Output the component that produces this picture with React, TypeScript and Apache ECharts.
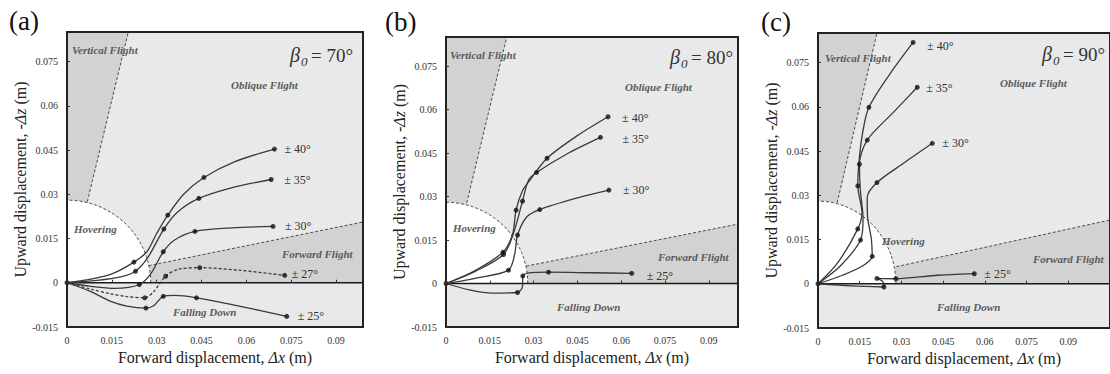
import React, { useEffect, useRef } from "react";
import * as echarts from "echarts";

const SERIF = "Liberation Serif, DejaVu Serif, serif";

// ---------- data ----------
const panelLetters = ["(a)", "(b)", "(c)"];
const betaValues = ["70°", "80°", "90°"];
const regionNames = ["Vertical Flight", "Oblique Flight", "Hovering", "Forward Flight", "Falling Down"];

const xMaxes = [0.099, 0.1, 0.105];
const yMin = -0.015;
const yMax = 0.085;
const tickStep = 0.015;
const hoverRadius = 0.028;

const verticalLines = [
  [[0.0068, 0.0275], [0.0205, 0.085]],
  [[0.0071, 0.0278], [0.0208, 0.085]],
  [[0.0069, 0.0275], [0.0212, 0.085]],
];
const forwardLines = [
  [[0.0273, 0.0058], [0.099, 0.0206]],
  [[0.0275, 0.006], [0.1, 0.0205]],
  [[0.0282, 0.0058], [0.105, 0.0216]],
];

// panel (a) beta0 = 70
const curveLabelsA = ["± 40°", "± 35°", "± 30°", "± 27°", "± 25°"];
const a40Path = [[0, 0], [0.008, 0.0012], [0.015, 0.003], [0.0224, 0.007], [0.0267, 0.0105], [0.03, 0.0167], [0.0337, 0.0229], [0.039, 0.03], [0.0458, 0.0357], [0.056, 0.041], [0.0694, 0.0453]];
const a40Marks = [[0, 0], [0.0224, 0.007], [0.0337, 0.0229], [0.0458, 0.0357], [0.0694, 0.0453]];
const a35Path = [[0, 0], [0.01, 0.0008], [0.018, 0.002], [0.0229, 0.0039], [0.027, 0.0085], [0.0324, 0.0182], [0.037, 0.024], [0.0441, 0.0286], [0.055, 0.0322], [0.0683, 0.035]];
const a35Marks = [[0.0229, 0.0039], [0.0324, 0.0182], [0.0441, 0.0286], [0.0683, 0.035]];
const a30Path = [[0, 0], [0.008, -0.0012], [0.016, -0.0019], [0.0242, -0.0006], [0.028, 0.003], [0.0322, 0.0105], [0.036, 0.0145], [0.0428, 0.0174], [0.055, 0.0186], [0.0689, 0.0191]];
const a30Marks = [[0.0242, -0.0006], [0.0322, 0.0105], [0.0428, 0.0174], [0.0689, 0.0191]];
const a27Path = [[0, 0], [0.008, -0.0022], [0.0144, -0.0037], [0.02, -0.0047], [0.026, -0.0051], [0.029, -0.003], [0.033, 0.0022], [0.037, 0.0045], [0.0444, 0.0051], [0.058, 0.0042], [0.0728, 0.0025]];
const a27Marks = [[0.026, -0.0051], [0.033, 0.0022], [0.0444, 0.0051], [0.0728, 0.0025]];
const a25Path = [[0, 0], [0.008, -0.003], [0.0144, -0.0062], [0.02, -0.0079], [0.0264, -0.0086], [0.029, -0.0078], [0.0322, -0.0046], [0.036, -0.0043], [0.0433, -0.0051], [0.058, -0.008], [0.0735, -0.0114]];
const a25Marks = [[0.0264, -0.0086], [0.0322, -0.0046], [0.0433, -0.0051], [0.0735, -0.0114]];

// panel (b) beta0 = 80
const curveLabelsB = ["± 40°", "± 35°", "± 30°", "± 25°"];
const b40Path = [[0, 0], [0.01, 0.0045], [0.0195, 0.0108], [0.0228, 0.017], [0.024, 0.0253], [0.0262, 0.032], [0.029, 0.036], [0.0346, 0.0432], [0.045, 0.051], [0.0555, 0.0575]];
const b40Marks = [[0, 0], [0.0195, 0.0108], [0.024, 0.0253], [0.0346, 0.0432], [0.0555, 0.0575]];
const b35Path = [[0, 0], [0.01, 0.0042], [0.0197, 0.01], [0.0231, 0.0173], [0.0262, 0.0284], [0.0283, 0.0357], [0.031, 0.0383], [0.042, 0.045], [0.0529, 0.0504]];
const b35Marks = [[0.0197, 0.01], [0.0262, 0.0284], [0.031, 0.0383], [0.0529, 0.0504]];
const b30Path = [[0, 0], [0.01, 0.0018], [0.0214, 0.0046], [0.0235, 0.01], [0.0245, 0.0167], [0.0277, 0.023], [0.0321, 0.0255], [0.045, 0.0295], [0.0558, 0.0322]];
const b30Marks = [[0.0214, 0.0046], [0.0245, 0.0167], [0.0321, 0.0255], [0.0558, 0.0322]];
const b25Path = [[0, 0], [0.008, -0.0022], [0.016, -0.0033], [0.0245, -0.0031], [0.0262, -0.001], [0.0263, 0.0026], [0.028, 0.0036], [0.0351, 0.0039], [0.05, 0.0037], [0.0636, 0.0035]];
const b25Marks = [[0.0245, -0.0031], [0.0263, 0.0026], [0.0351, 0.0039], [0.0636, 0.0035]];

// panel (c) beta0 = 90
const curveLabelsC = ["± 40°", "± 35°", "± 30°", "± 25°"];
const c40Path = [[0, 0], [0.007, 0.007], [0.0143, 0.0186], [0.0158, 0.024], [0.0143, 0.0332], [0.0148, 0.042], [0.0162, 0.052], [0.0183, 0.0598], [0.0257, 0.0709], [0.0342, 0.0818]];
const c40Marks = [[0, 0], [0.0143, 0.0186], [0.0143, 0.0332], [0.0183, 0.0598], [0.0342, 0.0818]];
const c35Path = [[0, 0], [0.008, 0.006], [0.0153, 0.0148], [0.0162, 0.022], [0.0152, 0.032], [0.0149, 0.0405], [0.0177, 0.0487], [0.027, 0.058], [0.0357, 0.0666]];
const c35Marks = [[0.0153, 0.0148], [0.0149, 0.0405], [0.0177, 0.0487], [0.0357, 0.0666]];
const c30Path = [[0, 0], [0.0086, 0.0028], [0.016, 0.006], [0.0195, 0.0093], [0.0192, 0.015], [0.0178, 0.023], [0.0177, 0.0292], [0.0212, 0.0343], [0.031, 0.041], [0.0411, 0.0476]];
const c30Marks = [[0.0195, 0.0093], [0.0212, 0.0343], [0.0411, 0.0476]];
const c25Path = [[0, 0], [0.012, -0.0007], [0.0237, -0.0011], [0.0235, 0.0005], [0.0212, 0.0018], [0.028, 0.0017], [0.042, 0.0028], [0.0562, 0.0034]];
const c25Marks = [[0.0237, -0.0011], [0.0212, 0.0018], [0.028, 0.0017], [0.0562, 0.0034]];

// ---------- layout / style ----------
const gridBoxes = [
  { left: 67, top: 32, width: 296, height: 295 },
  { left: 446, top: 37, width: 292, height: 290 },
  { left: 818, top: 33, width: 308, height: 295 },
];
const letterPos = [[9, 21], [385, 22], [761, 22]];
const betaPos = [[290, 55], [670, 57], [1042, 54]];
const regionPos = [
  [[72, 50], [231, 85], [74, 229], [282, 254], [173, 312]],
  [[450, 55], [625, 87], [453, 228], [658, 257], [557, 307]],
  [[825, 58], [1000, 83], [882, 241], [1033, 259], [937, 307]],
];

const panelCurves = [
  [
    { path: a40Path, marks: a40Marks, label: curveLabelsA[0], offset: [10, 0], dashed: false },
    { path: a35Path, marks: a35Marks, label: curveLabelsA[1], offset: [13, 0], dashed: false },
    { path: a30Path, marks: a30Marks, label: curveLabelsA[2], offset: [12, 0], dashed: false },
    { path: a27Path, marks: a27Marks, label: curveLabelsA[3], offset: [7, -1], dashed: true },
    { path: a25Path, marks: a25Marks, label: curveLabelsA[4], offset: [11, 0], dashed: false },
  ],
  [
    { path: b40Path, marks: b40Marks, label: curveLabelsB[0], offset: [14, 1], dashed: false },
    { path: b35Path, marks: b35Marks, label: curveLabelsB[1], offset: [22, 2], dashed: false },
    { path: b30Path, marks: b30Marks, label: curveLabelsB[2], offset: [14, 0], dashed: false },
    { path: b25Path, marks: b25Marks, label: curveLabelsB[3], offset: [15, 3], dashed: false },
  ],
  [
    { path: c40Path, marks: c40Marks, label: curveLabelsC[0], offset: [14, 4], dashed: false },
    { path: c35Path, marks: c35Marks, label: curveLabelsC[1], offset: [9, 1], dashed: false },
    { path: c30Path, marks: c30Marks, label: curveLabelsC[2], offset: [10, 0], dashed: false },
    { path: c25Path, marks: c25Marks, label: curveLabelsC[3], offset: [10, 0], dashed: false },
  ],
];

const LIGHT = "#e9e9e9";
const GRAY = "#d2d2d2";

function fmt(v: number) {
  return String(+v.toFixed(3));
}

function regionSeries(gi: number) {
  return {
    type: "custom",
    xAxisIndex: gi,
    yAxisIndex: gi,
    data: [0],
    silent: true,
    z: 1,
    renderItem: (_p: any, api: any) => {
      const R = hoverRadius;
      const xMax = xMaxes[gi];
      const v = verticalLines[gi];
      const f = forwardLines[gi];
      const c = (p: number[]) => api.coord(p);
      const arc = (a0: number, a1: number) => {
        const pts: number[][] = [];
        const n = 48;
        for (let i = 0; i <= n; i++) {
          const t = a0 + ((a1 - a0) * i) / n;
          pts.push(c([R * Math.cos(t), R * Math.sin(t)]));
        }
        return pts;
      };
      const av = Math.atan2(v[0][1], v[0][0]);
      const af = Math.atan2(f[0][1], f[0][0]);
      const dash = { stroke: "#4a4a4a", lineWidth: 1, lineDash: [3, 2], fill: "none" };
      return {
        type: "group",
        children: [
          { type: "polygon", shape: { points: [c([0, yMax]), c(v[1]), c(v[0]), ...arc(av, Math.PI / 2)] }, style: { fill: GRAY } },
          { type: "polygon", shape: { points: [...arc(0, af), c(f[0]), c(f[1]), c([xMax, 0])] }, style: { fill: GRAY } },
          { type: "polygon", shape: { points: [c([0, 0]), ...arc(0, Math.PI / 2)] }, style: { fill: "#ffffff" } },
          { type: "polyline", shape: { points: arc(0, Math.PI / 2) }, style: dash },
          { type: "polyline", shape: { points: [c(v[0]), c(v[1])] }, style: dash },
          { type: "polyline", shape: { points: [c(f[0]), c(f[1])] }, style: dash },
          { type: "polyline", shape: { points: [c([0, 0]), c([xMax, 0])] }, style: { stroke: "#1a1a1a", lineWidth: 1.6, fill: "none" } },
        ],
      };
    },
  };
}

function frameSeries(gi: number) {
  return {
    type: "custom",
    xAxisIndex: gi,
    yAxisIndex: gi,
    data: [0],
    silent: true,
    z: 8,
    renderItem: (_p: any, api: any) => {
      const p0 = api.coord([0, yMax]);
      const p1 = api.coord([xMaxes[gi], yMin]);
      return {
        type: "rect",
        shape: { x: p0[0], y: p0[1], width: p1[0] - p0[0], height: p1[1] - p0[1] },
        style: { fill: "none", stroke: "#222", lineWidth: 2 },
      };
    },
  };
}

function buildOption() {
  const grid = gridBoxes.map((g) => ({ ...g, show: true, backgroundColor: LIGHT, borderWidth: 0 }));
  const xAxis = gridBoxes.map((_, gi) => ({
    type: "value",
    gridIndex: gi,
    min: 0,
    max: xMaxes[gi],
    interval: tickStep,
    z: 10,
    name: "Forward displacement, {i|Δx} (m)",
    nameLocation: "middle",
    nameGap: 11,
    nameTextStyle: {
      fontFamily: SERIF,
      fontSize: 16,
      color: "#222",
      verticalAlign: "top",
      rich: { i: { fontFamily: SERIF, fontSize: 16, fontStyle: "italic", color: "#222" } },
    },
    axisLine: { show: false },
    splitLine: { show: false },
    axisTick: { show: true, inside: true, length: 3, lineStyle: { color: "#333" } },
    axisLabel: { fontFamily: SERIF, fontSize: 10, color: "#333", margin: 8, showMaxLabel: false, formatter: fmt },
  }));
  const yAxis = gridBoxes.map((_, gi) => ({
    type: "value",
    gridIndex: gi,
    min: yMin,
    max: yMax,
    interval: tickStep,
    z: 10,
    name: "Upward displacement, -{i|Δz} (m)",
    nameLocation: "middle",
    nameGap: 37,
    nameTextStyle: {
      fontFamily: SERIF,
      fontSize: 16,
      color: "#222",
      rich: { i: { fontFamily: SERIF, fontSize: 16, fontStyle: "italic", color: "#222" } },
    },
    axisLine: { show: false },
    splitLine: { show: false },
    axisTick: { show: true, inside: true, length: 3, lineStyle: { color: "#333" } },
    axisLabel: { fontFamily: SERIF, fontSize: 10, color: "#333", margin: 9, showMaxLabel: false, formatter: fmt },
  }));

  const series: any[] = [];
  panelCurves.forEach((curves, gi) => {
    series.push(regionSeries(gi));
    curves.forEach((cv) => {
      series.push({
        type: "line",
        xAxisIndex: gi,
        yAxisIndex: gi,
        data: cv.path,
        smooth: 0.3,
        symbol: "none",
        silent: true,
        z: 3,
        lineStyle: { color: "#3a3a3a", width: 1.3, type: cv.dashed ? [3, 2] : "solid" },
        endLabel: {
          show: true,
          formatter: cv.label,
          color: "#333",
          fontFamily: SERIF,
          fontSize: 12,
          distance: 0,
          offset: cv.offset,
        },
      });
      series.push({
        type: "scatter",
        xAxisIndex: gi,
        yAxisIndex: gi,
        data: cv.marks,
        symbol: "circle",
        symbolSize: 5,
        silent: true,
        z: 4,
        itemStyle: { color: "#111" },
      });
    });
    series.push(frameSeries(gi));
  });

  const graphic: any[] = [];
  panelLetters.forEach((t, i) => {
    graphic.push({
      type: "text",
      x: letterPos[i][0],
      y: letterPos[i][1],
      z: 20,
      style: { text: t, fontFamily: SERIF, fontSize: 27, fill: "#111", textVerticalAlign: "middle", verticalAlign: "middle" },
    });
  });
  betaPos.forEach((p, i) => {
    graphic.push({
      type: "text", x: p[0], y: p[1], z: 20,
      style: { text: "β", fontFamily: SERIF, fontSize: 20, fontStyle: "italic", fill: "#333", textVerticalAlign: "middle", verticalAlign: "middle" },
    });
    graphic.push({
      type: "text", x: p[0] + 11, y: p[1] + 6, z: 20,
      style: { text: "0", fontFamily: SERIF, fontSize: 13, fontStyle: "italic", fill: "#333", textVerticalAlign: "middle", verticalAlign: "middle" },
    });
    graphic.push({
      type: "text", x: p[0] + 21, y: p[1], z: 20,
      style: { text: "= " + betaValues[i], fontFamily: SERIF, fontSize: 19, fill: "#333", textVerticalAlign: "middle", verticalAlign: "middle" },
    });
  });
  regionPos.forEach((list) => {
    list.forEach((p, k) => {
      graphic.push({
        type: "text", x: p[0], y: p[1], z: 20,
        style: {
          text: regionNames[k], fontFamily: SERIF, fontSize: 11, fontStyle: "italic", fontWeight: "bold",
          fill: "#5a5a5a", textVerticalAlign: "middle", verticalAlign: "middle",
        },
      });
    });
  });

  return { animation: false, backgroundColor: "#ffffff", grid, xAxis, yAxis, series, graphic };
}

export default function App() {
  const ref = useRef<HTMLDivElement | null>(null);
  useEffect(() => {
    if (!ref.current) return;
    const chart = echarts.init(ref.current, undefined, { renderer: "svg" });
    chart.setOption(buildOption() as any);
    return () => chart.dispose();
  }, []);
  return (
    <div
      ref={ref}
      style={{ position: "absolute", left: 0, top: 0, width: 1110, height: 374, background: "#fff" }}
    />
  );
}
